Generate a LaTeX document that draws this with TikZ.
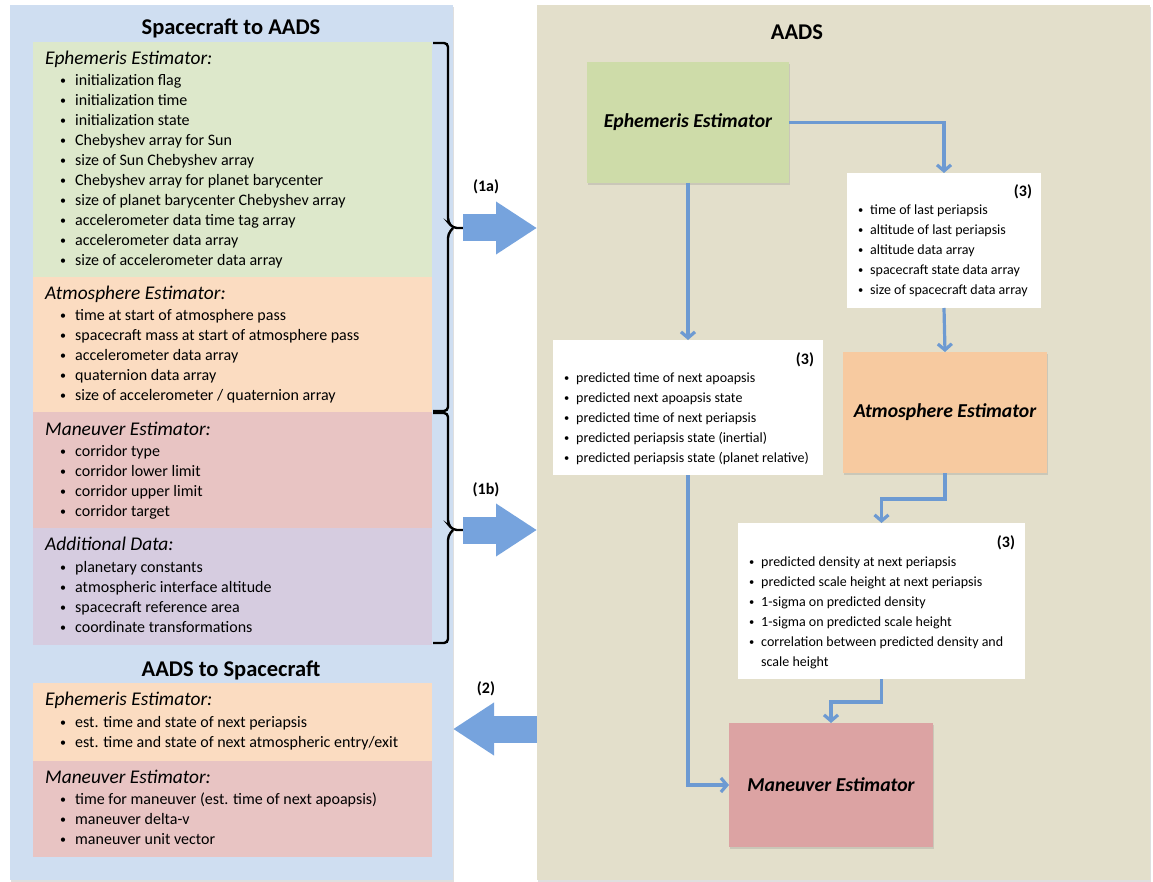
\documentclass[tikz,border=0pt]{standalone}
\usepackage{fontspec}
\setmainfont{Carlito}
\usetikzlibrary{arrows.meta,shadows}
\definecolor{panelblue}{HTML}{CFDEF1}
\definecolor{panelbeige}{HTML}{E3DFCB}
\definecolor{lightgreen}{HTML}{DDE8CB}
\definecolor{lightorange}{HTML}{FBDCC1}
\definecolor{lightred}{HTML}{E8C4C3}
\definecolor{lightpurple}{HTML}{D6CCE0}
\definecolor{ephgreen}{HTML}{CEDCA9}
\definecolor{atmorange}{HTML}{F7CAA0}
\definecolor{manred}{HTML}{DCA3A3}
\definecolor{flowblue}{HTML}{6D9AD2}
\definecolor{fatblue}{HTML}{76A3DD}
\tikzset{
	blk/.style={inner sep=0pt, outer sep=0pt, anchor=north west},
	shade/.style={drop shadow={opacity=0.25, shadow xshift=1pt, shadow yshift=-2pt}},
	estbox/.style={inner sep=0pt, outer sep=0pt, shade},
	itm/.style={inner sep=0pt, anchor=mid west},
	flow/.style={draw=flowblue, line width=3.2pt, -{Straight Barb[length=6pt,width=14pt]}},
	fatarrow/.style={draw=fatblue, line width=27pt, -{Triangle[length=41pt,width=50pt]}},
	bracket/.style={draw=black, line width=2.4pt, rounded corners=4pt}
}
\begin{document}
\begin{tikzpicture}[x=1pt, y=-1pt]
			\newcommand{\myfonttitle}[1]{%
				\fontsize{22.5}{26}\selectfont\bfseries{#1}%
			}\newcommand{\myfonthead}[1]{%
				\fontsize{19.4}{22}\selectfont\itshape{#1}%
			}\newcommand{\mybullet}[1]{%
				\makebox[#1][l]{\raisebox{0.6pt}{\scalebox{0.75}{\textbullet}}}%
			}\newcommand{\myfontitem}[1]{%
				\fontsize{16}{18}\selectfont\mybullet{15pt}{#1}%
			}\newcommand{\myfontinfo}[1]{%
				\fontsize{14}{16}\selectfont\mybullet{12pt}{#1}%
			}\newcommand{\myfontnumbering}[1]{%
				\fontsize{16}{18}\selectfont\bfseries{#1}%
			}\newcommand{\myfontbox}[1]{%
				\fontsize{19.7}{22}\selectfont\bfseries\itshape{#1}%
			}%Page
			\useasboundingbox (0,0) rectangle (1153,882);
			%The two panels
			\node [blk, fill=panelblue, minimum width=443pt, minimum height=875pt, shade] (scPanel) at (10,5) {};
			\node [blk, fill=panelbeige, minimum width=613pt, minimum height=875pt, shade] (aadsPanel) at (537,5) {};
			\node [] (scTitle) at (231,28) {\myfonttitle{Spacecraft to AADS}};
			\node [] (backTitle) at (231,670) {\myfonttitle{AADS to Spacecraft}};
			\node [] (aadsTitle) at (797,32) {\myfonttitle{AADS}};
			%Coloured bands on the left
			\node [blk, fill=lightgreen, minimum width=399pt, minimum height=235pt] (ephIn) at (33,42) {};
			\node [blk, fill=lightorange, minimum width=399pt, minimum height=135pt] (atmIn) at (33,277) {};
			\node [blk, fill=lightred, minimum width=399pt, minimum height=116pt] (manIn) at (33,412) {};
			\node [blk, fill=lightpurple, minimum width=399pt, minimum height=117pt] (addIn) at (33,528) {};
			\node [blk, fill=lightorange, minimum width=399pt, minimum height=78pt] (ephOut) at (33,683) {};
			\node [blk, fill=lightred, minimum width=399pt, minimum height=96pt] (manOut) at (33,761) {};
			%Ephemeris Estimator inputs
			\node [itm] (ephInHead) at (45,62) {\myfonthead{Ephemeris Estimator:}};
			\foreach \txt [count=\i] in {{initialization flag},{initialization time},{initialization state},{Chebyshev array for Sun},{size of Sun Chebyshev array},{Chebyshev array for planet barycenter},{size of planet barycenter Chebyshev array},{accelerometer data time tag array},{accelerometer data array},{size of accelerometer data array}} {
				\node [itm] (ephIn\i) at (60,63+20*\i) {\myfontitem{\txt}};
			}
			%Atmosphere Estimator inputs
			\node [itm] (atmInHead) at (45,297) {\myfonthead{Atmosphere Estimator:}};
			\foreach \txt [count=\i] in {{time at start of atmosphere pass},{spacecraft mass at start of atmosphere pass},{accelerometer data array},{quaternion data array},{size of accelerometer / quaternion array}} {
				\node [itm] (atmIn\i) at (60,298+20*\i) {\myfontitem{\txt}};
			}
			%Maneuver Estimator inputs
			\node [itm] (manInHead) at (45,433) {\myfonthead{Maneuver Estimator:}};
			\foreach \txt [count=\i] in {{corridor type},{corridor lower limit},{corridor upper limit},{corridor target}} {
				\node [itm] (manIn\i) at (60,434+20*\i) {\myfontitem{\txt}};
			}
			%Additional data
			\node [itm] (addInHead) at (45,548) {\myfonthead{Additional Data:}};
			\foreach \txt [count=\i] in {{planetary constants},{atmospheric interface altitude},{spacecraft reference area},{coordinate transformations}} {
				\node [itm] (addIn\i) at (60,550+20*\i) {\myfontitem{\txt}};
			}
			%Outputs to the spacecraft
			\node [itm] (ephOutHead) at (45,703) {\myfonthead{Ephemeris Estimator:}};
			\foreach \txt [count=\i] in {{est. time and state of next periapsis},{est. time and state of next atmospheric entry/exit}} {
				\node [itm] (ephOut\i) at (60,705+20*\i) {\myfontitem{\txt}};
			}
			\node [itm] (manOutHead) at (45,781) {\myfonthead{Maneuver Estimator:}};
			\foreach \txt [count=\i] in {{time for maneuver (est. time of next apoapsis)},{maneuver delta-v},{maneuver unit vector}} {
				\node [itm] (manOut\i) at (60,782+20*\i) {\myfontitem{\txt}};
			}
			%Brackets
			\draw [bracket] (433,43) -- (448,43) -- (448,222) -- (453,228) -- (463,228);
			\draw [bracket] (453,228) -- (448,234) -- (448,411) -- (433,411);
			\draw [bracket] (433,413) -- (448,413) -- (448,524) -- (453,530) -- (463,530);
			\draw [bracket] (453,530) -- (448,536) -- (448,643) -- (433,643);
			\coordinate (brTipA) at (463,228);
			\coordinate (brTipB) at (463,530);
			\coordinate (outY) at (500,729);
			%Block arrows
			\draw [fatarrow] (brTipA) -- (brTipA -| aadsPanel.west);
			\draw [fatarrow] (brTipB) -- (brTipB -| aadsPanel.west);
			\draw [fatarrow] (aadsPanel.west |- outY) -- (scPanel.east |- outY);
			\node [] (lblA) at (486,187) {\myfontnumbering{(1a)}};
			\node [] (lblB) at (486,490) {\myfontnumbering{(1b)}};
			\node [] (lblC) at (486,689) {\myfontnumbering{(2)}};
			%Estimators
			\node [estbox, fill=ephgreen, minimum width=202pt, minimum height=121pt] (ephBox) at (688,122.5) {\myfontbox{Ephemeris Estimator}};
			\node [estbox, fill=atmorange, minimum width=204pt, minimum height=121pt] (atmBox) at (945,412.5) {\myfontbox{Atmosphere Estimator}};
			\node [estbox, fill=manred, minimum width=204pt, minimum height=124pt] (manBox) at (831,785) {\myfontbox{Maneuver Estimator}};
			%Data passed between estimators
			\node [blk, fill=white, minimum width=194pt, minimum height=135pt] (info1) at (847,173) {};
			\node [] (info1Num) at (1023,192) {\myfontnumbering{(3)}};
			\foreach \txt [count=\i] in {{time of last periapsis},{altitude of last periapsis},{altitude data array},{spacecraft state data array},{size of spacecraft data array}} {
				\node [itm] (info1It\i) at (858,192+20*\i) {\myfontinfo{\txt}};
			}
			\node [blk, fill=white, minimum width=270pt, minimum height=135pt] (info2) at (553,340) {};
			\node [] (info2Num) at (805,360) {\myfontnumbering{(3)}};
			\foreach \txt [count=\i] in {{predicted time of next apoapsis},{predicted next apoapsis state},{predicted time of next periapsis},{predicted periapsis state (inertial)},{predicted periapsis state (planet relative)}} {
				\node [itm] (info2It\i) at (564,360+20*\i) {\myfontinfo{\txt}};
			}
			\node [blk, fill=white, minimum width=287pt, minimum height=156pt] (info3) at (738,523) {};
			\node [] (info3Num) at (1006,543) {\myfontnumbering{(3)}};
			\foreach \txt [count=\i] in {{predicted density at next periapsis},{predicted scale height at next periapsis},{1-sigma on predicted density},{1-sigma on predicted scale height},{correlation between predicted density and}} {
				\node [itm] (info3It\i) at (749,544+20*\i) {\myfontinfo{\txt}};
			}
			\node [itm] (info3It6) at (761,664) {\fontsize{14}{16}\selectfont scale height};
			%Connectors
			\draw [flow] (ephBox.east) -| (info1.north);
			\draw [flow] (info1.south) -- (atmBox.north);
			\draw [flow] (ephBox.south) -- (info2.north);
			\draw [flow] (info2.south) |- (manBox.west);
			\draw [flow] (atmBox.south) -- ++(0,26) -| (info3.north);
			\draw [flow] (info3.south) -- ++(0,23) -| (manBox.north);
			\end{tikzpicture}
\end{document}
